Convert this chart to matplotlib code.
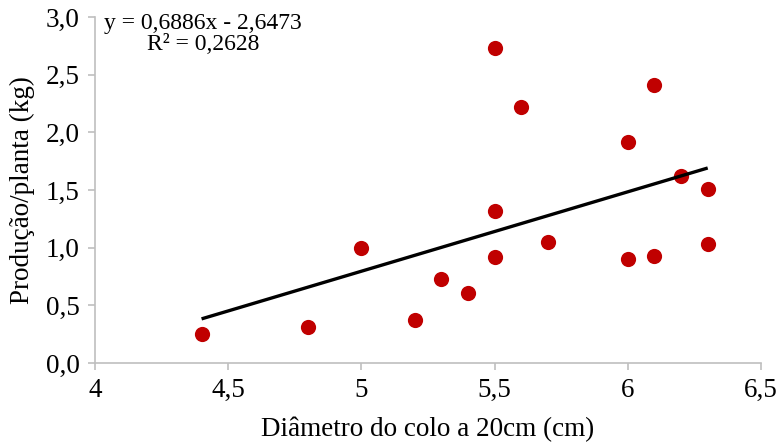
import numpy as np
import matplotlib
matplotlib.use("Agg")
import matplotlib.pyplot as plt
from matplotlib.ticker import FuncFormatter

diametro = [4.4, 4.8, 5.0, 5.2, 5.3, 5.4, 5.5, 5.5, 5.5, 5.6, 5.7,
            6.0, 6.0, 6.1, 6.1, 6.2, 6.3, 6.3]
producao = [0.25, 0.31, 1.00, 0.37, 0.73, 0.61, 0.92, 1.32, 2.73, 2.22, 1.05,
            0.905, 1.92, 0.93, 2.41, 1.62, 1.51, 1.035]
slope, intercept = 0.6886, -2.6473
x_ticks = [4, 4.5, 5, 5.5, 6, 6.5]
y_ticks = [0.0, 0.5, 1.0, 1.5, 2.0, 2.5, 3.0]

plt.rcParams['font.family'] = ['Liberation Serif', 'DejaVu Serif']

fig = plt.figure(figsize=(7.79, 4.47), dpi=100)
ax = fig.add_axes([95/779, 1-363/447, 666/779, 346/447])

ax.scatter(diametro, producao, s=120, color='#C00000', zorder=2, linewidths=0)
xl = np.array([min(diametro), max(diametro)])
ax.plot(xl, slope*xl + intercept, color='black', lw=2.4, zorder=3, solid_capstyle='butt')

ax.set_xlim(4, 6.5)
ax.set_ylim(0, 3)
ax.set_xticks(x_ticks)
ax.set_yticks(y_ticks)
ax.xaxis.set_major_formatter(FuncFormatter(lambda v, p: ('%g' % v).replace('.', ',')))
ax.yaxis.set_major_formatter(FuncFormatter(lambda v, p: ('%.1f' % v).replace('.', ',')))

for s in ['top', 'right']:
    ax.spines[s].set_visible(False)
for s in ['left', 'bottom']:
    ax.spines[s].set_color('#BFBFBF')
    ax.spines[s].set_linewidth(1.2)
ax.tick_params(axis='both', direction='out', length=5, width=1.2, color='#BFBFBF',
               labelsize=19.5, labelcolor='black', pad=6)

ax.set_xlabel('Diâmetro do colo a 20cm (cm)', fontsize=19.5, labelpad=10)
ax.set_ylabel('Produção/planta (kg)', fontsize=19.5, labelpad=8)

ax.text(203/779, 1-34/447, 'y = 0,6886x - 2,6473\nR² = 0,2628', transform=fig.transFigure,
        ha='center', va='center', multialignment='center', fontsize=17, linespacing=1.05)

fig.savefig('out.png', dpi=100)
